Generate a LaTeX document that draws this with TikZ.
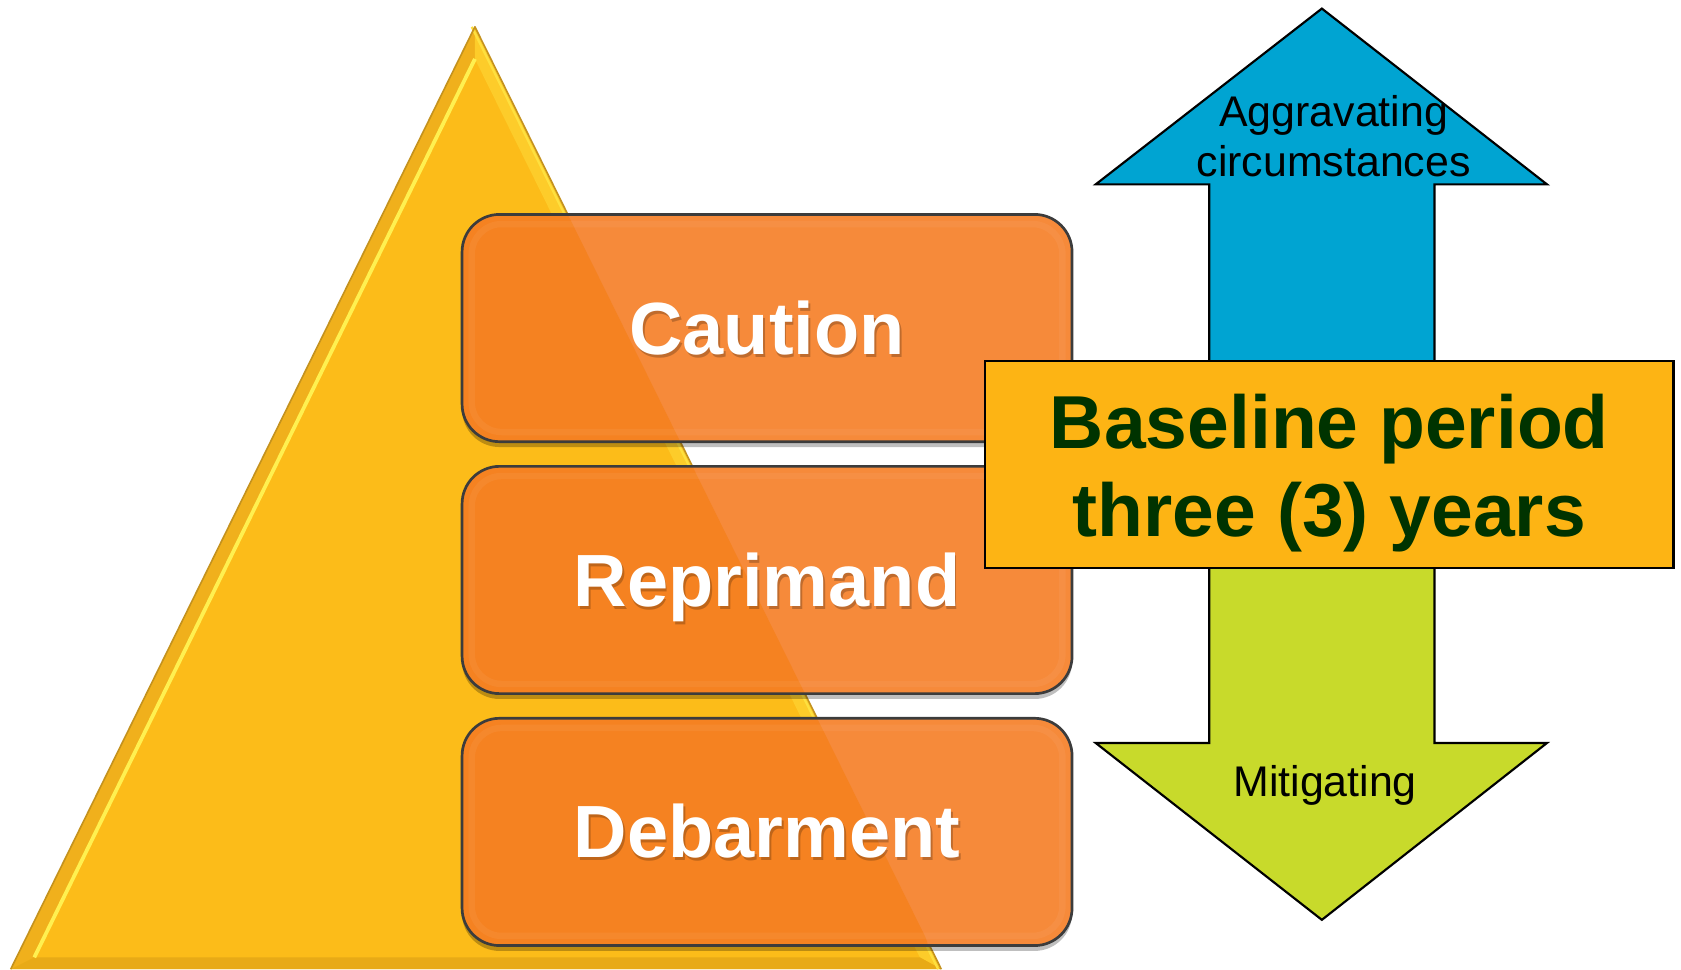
\documentclass[tikz,border=0pt]{standalone}
\usepackage{fontspec}
\setmainfont{Liberation Sans}
\definecolor{tri}{RGB}{252,188,25}
\definecolor{trilight}{RGB}{253,204,42}
\definecolor{tridark}{RGB}{196,146,30}
\definecolor{trihi}{RGB}{255,240,80}
\definecolor{tribase}{RGB}{232,170,22}
\definecolor{triside}{RGB}{240,176,28}
\definecolor{boxwhite}{RGB}{246,138,58}
\definecolor{boxtri}{RGB}{245,130,33}
\definecolor{boxedge}{RGB}{60,60,60}
\definecolor{basefill}{RGB}{253,180,20}
\definecolor{basetext}{RGB}{0,51,0}
\definecolor{upblue}{RGB}{0,164,210}
\definecolor{downgreen}{RGB}{200,218,43}
\tikzset{
  obox/.style={rounded corners=35pt, draw=boxedge, line width=2.5pt, fill=boxwhite,
    minimum width=569pt, minimum height=212pt, inner sep=0pt,
    path picture={\fill[boxtri] (TA) -- (TL) -- (TR) -- cycle;
      \draw[white, opacity=0.05, line width=6pt, rounded corners=28pt]
        ([shift={(9pt,-9pt)}]path picture bounding box.north west) rectangle
        ([shift={(-9pt,9pt)}]path picture bounding box.south east);}},
  oshadow/.style={rounded corners=35pt, fill=black, fill opacity=0.25,
    minimum width=569pt, minimum height=212pt, inner sep=0pt},
  olabel/.style={anchor=base, text=white, inner sep=0pt,
    font=\fontsize{69}{80}\selectfont\bfseries},
  olabelsh/.style={anchor=base, text=black, text opacity=0.22, inner sep=0pt,
    font=\fontsize{69}{80}\selectfont\bfseries},
  arrowshape/.style={draw=black, line width=2pt, line join=miter},
  smalltext/.style={align=center, inner sep=0pt, text=black,
    font=\fontsize{40}{47}\selectfont},
}
\begin{document}
\begin{tikzpicture}[x=1pt,y=-1pt]
\useasboundingbox (0,0) rectangle (1568,904);

% pyramid
\coordinate (TA) at (443,25);
\coordinate (TL) at (10,904);
\coordinate (TR) at (878,904);
\coordinate (IA) at (443,55);
\coordinate (IL) at (32,893);
\coordinate (IR) at (858,893);
\fill[tri] (TA) -- (TL) -- (TR) -- cycle;
\fill[triside] (TA) -- (TL) -- (IL) -- (IA) -- cycle;
\fill[trilight] (TA) -- (TR) -- (IR) -- (IA) -- cycle;
\fill[tribase] (IL) -- (IR) -- (TR) -- (TL) -- cycle;
\draw[trihi, line width=3.5pt] (IA) -- (IL);
\draw[trihi!70!tri, line width=2pt] ([xshift=-3pt]TA) -- ([xshift=-3pt]TR);
\draw[tridark, line width=1.5pt, line join=round] (TL) -- (TA) -- (TR);

% orange boxes
\node[oshadow] (s1) at (715.5,311) {};
\node[oshadow] (s2) at (715.5,546) {};
\node[oshadow] (s3) at (715.5,781) {};
\node[obox] (caution) at (715.5,306) {};
\node[obox] (reprimand) at (715.5,541) {};
\node[obox] (debarment) at (715.5,776) {};

\node[olabelsh] (cautionsh) at (717,333.5) {Caution};
\node[olabel] (cautiont) at (715.5,331) {Caution};
\node[olabelsh] (reprimandsh) at (717,568.5) {Reprimand};
\node[olabel] (reprimandt) at (715.5,566) {Reprimand};
\node[olabelsh] (debarmentsh) at (717,802.5) {Debarment};
\node[olabel] (debarmentt) at (715.5,800) {Debarment};

% up arrow
\filldraw[arrowshape, fill=upblue] (1233,8) -- (1443,172) -- (1338,172) -- (1338,345)
  -- (1128,345) -- (1128,172) -- (1022,172) -- cycle;
% down arrow
\filldraw[arrowshape, fill=downgreen] (1233,858) -- (1443,693) -- (1338,693) -- (1338,520)
  -- (1128,520) -- (1128,693) -- (1022,693) -- cycle;

\node[smalltext] (aggr) at (1244,127) {Aggravating\\circumstances};
\node[smalltext] (mitig) at (1236,733) {Mitigating};

% baseline box
\node[draw=black, line width=2pt, fill=basefill, minimum width=642pt, minimum height=193pt,
  inner sep=0pt] (base) at (1240,433.5) {};
\node[align=center, inner sep=0pt, text=basetext,
  font=\fontsize{70}{82}\selectfont\bfseries] (baset) at (1240,441)
  {Baseline period\\three (3) years};
\end{tikzpicture}
\end{document}
